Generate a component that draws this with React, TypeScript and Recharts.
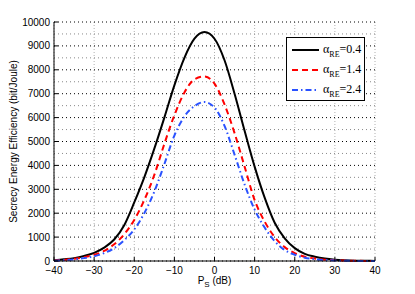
import { LineChart, Line, XAxis, YAxis, CartesianGrid, ReferenceLine, Label } from "recharts";

// P_S in dB
const psDb = [
  -40, -37.5, -35, -32.5, -30, -27.5, -25, -22.5, -20, -17.5, -15, -12.5, -10, -7.5, -5, -2.5,
  0, 2.5, 5, 7.5, 10, 12.5, 15, 17.5, 20, 22.5, 25, 27.5, 30, 32.5, 35, 37.5, 40,
];
// secrecy energy efficiency, alpha_RE = 0.4 / 1.4 / 2.4
const alpha04 = [
  30, 70, 120, 210, 340, 560, 900, 1500, 2450, 3500, 4700, 6000, 7350, 8500, 9300, 9580,
  9300, 8400, 7000, 5450, 3950, 2650, 1600, 950, 540, 300, 180, 100, 55, 30, 15, 8, 5,
];
const alpha14 = [
  20, 45, 90, 160, 260, 420, 700, 1120, 1720, 2550, 3600, 4900, 6100, 7050, 7600, 7720,
  7420, 6550, 5350, 3950, 2550, 1650, 1000, 580, 330, 180, 100, 55, 30, 16, 8, 4, 2,
];
const alpha24 = [
  15, 35, 70, 120, 200, 330, 540, 870, 1320, 2000, 2900, 4050, 5250, 6050, 6480, 6650,
  6420, 5650, 4450, 3200, 2150, 1400, 830, 460, 260, 140, 75, 40, 20, 10, 5, 3, 1,
];

const xTicks = [-40, -30, -20, -10, 0, 10, 20, 30, 40];
const yTicks = [0, 1000, 2000, 3000, 4000, 5000, 6000, 7000, 8000, 9000, 10000];
const minorY = [500, 1500, 2500, 3500, 4500, 5500, 6500, 7500, 8500, 9500];

const series = [
  { key: "a04", label: "0.4", color: "#000000", dash: undefined },
  { key: "a14", label: "1.4", color: "#ff0000", dash: "6 4" },
  { key: "a24", label: "2.4", color: "#2a52ff", dash: "6 3 1.5 3" },
];

const data = psDb.map((ps, i) => ({ ps, a04: alpha04[i], a14: alpha14[i], a24: alpha24[i] }));

const fmt = (v: number) => (v < 0 ? `\u2212${Math.abs(v)}` : `${v}`);
const sans = '"Liberation Sans", Arial, Helvetica, sans-serif';

function BottomTick(props: any) {
  const { x, y, payload } = props;
  return (
    <g>
      <line x1={x} x2={x} y1={y - 6} y2={y - 10} stroke="#000" />
      <text x={x} y={y} dy="0.71em" textAnchor="middle" fontSize={10} fontFamily={sans} fill="#000">
        {fmt(payload.value)}
      </text>
    </g>
  );
}

function LeftTick(props: any) {
  const { x, y, payload } = props;
  return (
    <g>
      <line x1={x + 4} x2={x + 8} y1={y} y2={y} stroke="#000" />
      <text x={x} y={y} dy="0.355em" textAnchor="end" fontSize={10} fontFamily={sans} fill="#000">
        {payload.value}
      </text>
    </g>
  );
}

function TopTick(props: any) {
  const { x, y } = props;
  return <line x1={x} x2={x} y1={y} y2={y + 4} stroke="#000" />;
}

function RightTick(props: any) {
  const { x, y } = props;
  return <line x1={x} x2={x - 4} y1={y} y2={y} stroke="#000" />;
}

function XTitle(props: any) {
  const { viewBox } = props;
  const cx = viewBox.x + viewBox.width / 2;
  return (
    <text x={cx} y={284} textAnchor="middle" fontSize={10} fontFamily={sans} fill="#000">
      P<tspan fontSize={8} dy={3}>S</tspan>
      <tspan dy={-3}> (dB)</tspan>
    </text>
  );
}

function YTitle(props: any) {
  const { viewBox } = props;
  const cy = viewBox.y + viewBox.height / 2;
  return (
    <text
      x={17}
      y={cy}
      transform={`rotate(-90, 17, ${cy})`}
      textAnchor="middle"
      fontSize={10}
      fontFamily={sans}
      fill="#000"
    >
      Secrecy Energy Efficiency (bit/Joule)
    </text>
  );
}

export default function App() {
  return (
    <div style={{ position: "absolute", left: 0, top: 0, width: 415, height: 294, background: "#fff" }}>
      <LineChart width={415} height={294} data={data} margin={{ top: 22, right: 40, left: 0, bottom: 0 }}>
        <CartesianGrid horizontal={false} stroke="#b0b0b0" strokeDasharray="1 2" />
        <CartesianGrid vertical={false} stroke="#000" strokeDasharray="1 3" />
        {minorY.map((v) => (
          <ReferenceLine key={v} y={v} stroke="#888" strokeDasharray="1 3" />
        ))}
        <XAxis
          dataKey="ps"
          type="number"
          domain={[-40, 40]}
          ticks={xTicks}
          height={33}
          tickSize={0}
          tickMargin={6}
          tick={<BottomTick />}
          axisLine={{ stroke: "#000" }}
          label={<Label content={<XTitle />} />}
        />
        <XAxis
          xAxisId="top"
          orientation="top"
          dataKey="ps"
          type="number"
          domain={[-40, 40]}
          ticks={xTicks}
          height={0}
          tickSize={0}
          tickMargin={0}
          tick={<TopTick />}
          axisLine={{ stroke: "#000" }}
        />
        <YAxis
          type="number"
          domain={[0, 10000]}
          ticks={yTicks}
          width={54}
          tickSize={0}
          tickMargin={4}
          tick={<LeftTick />}
          axisLine={{ stroke: "#000" }}
          label={<Label content={<YTitle />} />}
        />
        <YAxis
          yAxisId="right"
          orientation="right"
          type="number"
          domain={[0, 10000]}
          ticks={yTicks}
          width={0}
          tickSize={0}
          tickMargin={0}
          tick={<RightTick />}
          axisLine={{ stroke: "#000" }}
        />
        {series.map((s) => (
          <Line
            key={s.key}
            dataKey={s.key}
            type="monotone"
            stroke={s.color}
            strokeWidth={2}
            strokeDasharray={s.dash}
            dot={false}
            isAnimationActive={false}
          />
        ))}
      </LineChart>
      <div
        style={{
          position: "absolute",
          left: 286,
          top: 37,
          width: 79,
          height: 64,
          boxSizing: "border-box",
          border: "1px solid #000",
          background: "#fff",
          fontFamily: '"Liberation Serif", "Times New Roman", serif',
          color: "#000",
        }}
      >
        {series.map((s, i) => (
          <div
            key={s.key}
            style={{ position: "absolute", left: 5, top: 3 + i * 20, height: 18, display: "flex", alignItems: "center" }}
          >
            <svg width={28} height={6} style={{ display: "block" }}>
              <line x1={0} y1={3} x2={27} y2={3} stroke={s.color} strokeWidth={2} strokeDasharray={s.dash} />
            </svg>
            <span style={{ marginLeft: 3, fontSize: 12, lineHeight: "12px", whiteSpace: "nowrap" }}>
              α<span style={{ fontSize: 8, position: "relative", top: 4 }}>RE</span>={s.label}
            </span>
          </div>
        ))}
      </div>
    </div>
  );
}
